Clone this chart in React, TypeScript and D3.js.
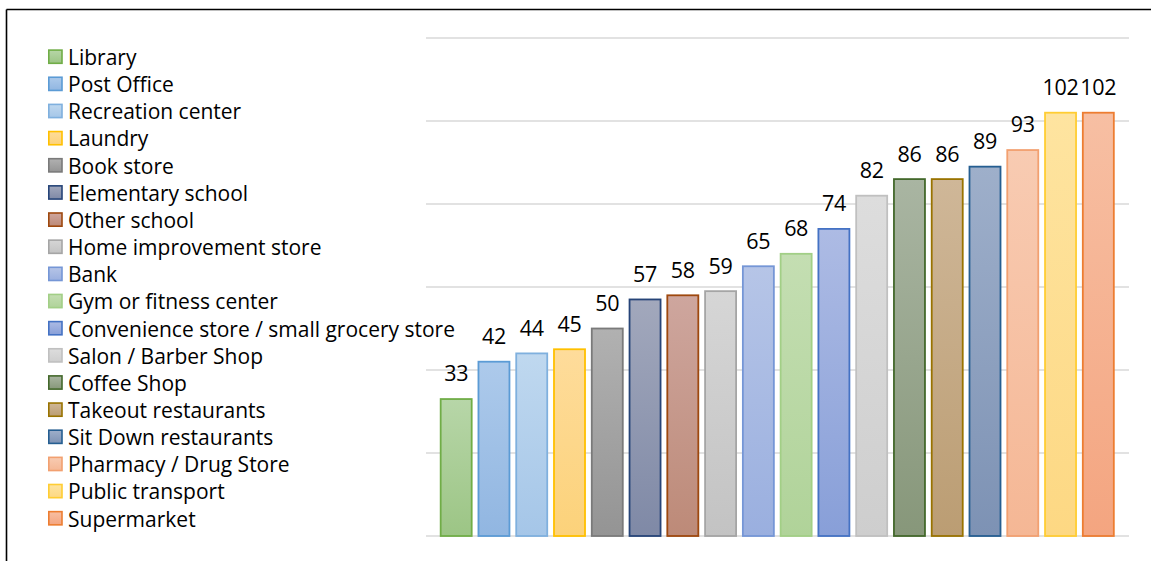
import React from "react";
import * as d3 from "d3";

const categories = [
  "Library",
  "Post Office",
  "Recreation center",
  "Laundry",
  "Book store",
  "Elementary school",
  "Other school",
  "Home improvement store",
  "Bank",
  "Gym or fitness center",
  "Convenience store / small grocery store",
  "Salon / Barber Shop",
  "Coffee Shop",
  "Takeout restaurants",
  "Sit Down restaurants",
  "Pharmacy / Drug Store",
  "Public transport",
  "Supermarket",
];

const values = [33, 42, 44, 45, 50, 57, 58, 59, 65, 68, 74, 82, 86, 86, 89, 93, 102, 102];

const yTicks = [0, 20, 40, 60, 80, 100, 120];

const fillTop = [
  "#b7d6a8", "#adcaeb", "#bfd8ef", "#fedc9b", "#b1b1b1", "#a2a8bc",
  "#cea69e", "#d6d6d6", "#b6c5e7", "#c4deb2", "#adbbe4", "#dddddd",
  "#a9b5a2", "#cfb798", "#9eafca", "#f8cbb2", "#fee4a0", "#f7bfa3",
];
const fillBottom = [
  "#9cc585", "#91b6e1", "#a5c6e8", "#fcd27a", "#949494", "#7f89a6",
  "#bd8a78", "#c3c3c3", "#9aafdf", "#b0d399", "#889fd8", "#cecece",
  "#87977a", "#bb9d73", "#7d92b4", "#f5b795", "#fdd883", "#f4a580",
];
const strokes = [
  "#70ad47", "#5b9bd5", "#7fb0de", "#ffc000", "#7a7a7a", "#264478",
  "#9e480e", "#a5a5a5", "#7596d6", "#a2cf86", "#4472c4", "#c0c0c0",
  "#43682b", "#997300", "#255e91", "#f2a070", "#ffcd33", "#ed7d31",
];

const W = 1151;
const H = 561;
const FONT = "'Open Sans', 'DejaVu Sans', sans-serif";

export default function App() {
  const x = d3
    .scaleBand<string>()
    .domain(categories)
    .range([437.3, 1117.2])
    .paddingInner(0.179)
    .paddingOuter(0.0895);
  const y = d3.scaleLinear().domain([0, 120]).range([536, 38]);

  const legendY = d3
    .scaleLinear()
    .domain([0, categories.length - 1])
    .range([56.7, 56.7 + 27.15 * (categories.length - 1)]);

  return (
    <svg
      width={W}
      height={H}
      style={{ position: "absolute", left: 0, top: 0, background: "#fff" }}
      fontFamily={FONT}
    >
      <defs>
        {categories.map((c, i) => (
          <linearGradient key={c} id={`g${i}`} x1="0" y1="0" x2="0" y2="1">
            <stop offset="0" stopColor={fillTop[i]} />
            <stop offset="1" stopColor={fillBottom[i]} />
          </linearGradient>
        ))}
      </defs>
      <rect x={0} y={0} width={W} height={H} fill="#fff" />
      {/* frame */}
      <line x1={6.5} y1={9.5} x2={W} y2={9.5} stroke="#000" strokeWidth={1.6} />
      <line x1={6.5} y1={9.5} x2={6.5} y2={H} stroke="#000" strokeWidth={1.6} />

      {/* gridlines */}
      {yTicks.map((t) => (
        <line
          key={t}
          x1={426}
          x2={1129}
          y1={y(t)}
          y2={y(t)}
          stroke="#d9d9d9"
          strokeWidth={1.5}
        />
      ))}

      {/* bars */}
      {categories.map((c, i) => (
        <rect
          key={c}
          x={x(c)!}
          y={y(values[i])}
          width={x.bandwidth()}
          height={y(0) - y(values[i])}
          fill={`url(#g${i})`}
          stroke={strokes[i]}
          strokeWidth={1.8}
        />
      ))}

      {/* data labels */}
      {categories.map((c, i) => (
        <text
          key={c}
          x={x(c)! + x.bandwidth() / 2}
          y={y(values[i]) - 17.6}
          textAnchor="middle"
          fontSize={21.5}
          letterSpacing={-0.3}
          fill="#000"
        >
          {values[i]}
        </text>
      ))}

      {/* legend */}
      {categories.map((c, i) => (
        <g key={c}>
          <rect
            x={48.8}
            y={legendY(i) - 6.6}
            width={13.2}
            height={13.2}
            fill={`url(#g${i})`}
            stroke={strokes[i]}
            strokeWidth={1.6}
          />
          <text x={68} y={legendY(i) + 8.3} fontSize={21} fill="#000">
            {c}
          </text>
        </g>
      ))}
    </svg>
  );
}
